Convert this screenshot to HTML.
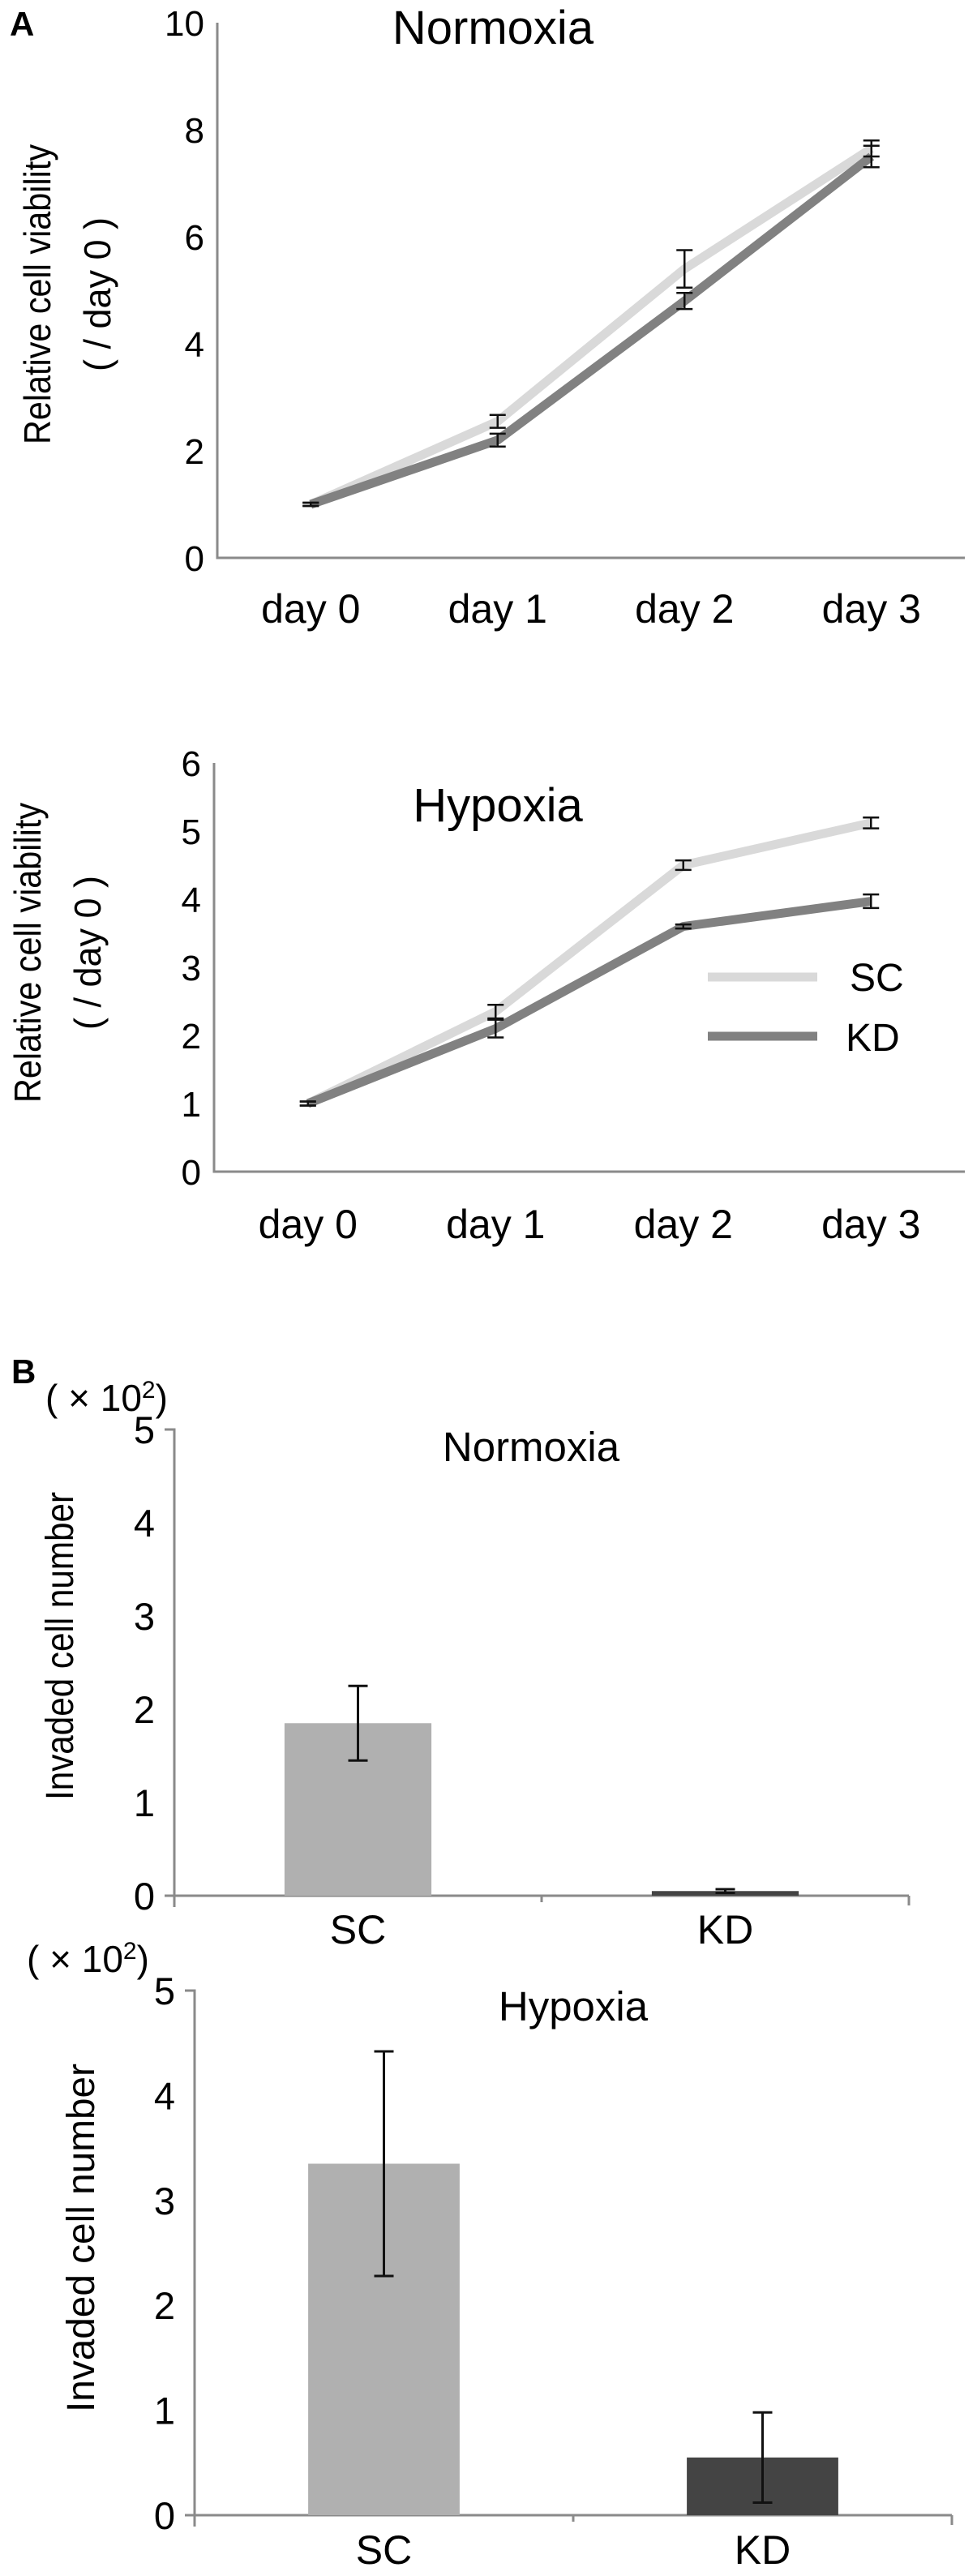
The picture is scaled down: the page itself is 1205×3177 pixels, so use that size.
<!DOCTYPE html>
<html><head><meta charset="utf-8">
<style>
html,body{margin:0;padding:0;background:#fff;}
svg{display:block;font-family:"Liberation Sans",sans-serif;}
</style></head>
<body>
<svg id="fig" width="1205" height="3177" viewBox="0 0 1205 3177" xmlns="http://www.w3.org/2000/svg">
<rect width="1205" height="3177" fill="#fff"/>
<text x="12" y="44" font-size="42" font-weight="bold">A</text>
<text x="14" y="1706" font-size="42" font-weight="bold">B</text>
<g id="g"></g>
</svg>
<script>
// ---- Panel A data ----
const dayCats = ["day 0","day 1","day 2","day 3"];
const normSC = [1, 2.55, 5.4, 7.65];
const normSCerr = [0.03, 0.12, 0.35, 0.15];
const normKD = [1, 2.2, 4.8, 7.5];
const normKDerr = [0.03, 0.12, 0.15, 0.2];
const normTicks = [0,2,4,6,8,10];
const hypSC = [1, 2.35, 4.5, 5.12];
const hypSCerr = [0.03, 0.1, 0.07, 0.08];
const hypKD = [1, 2.1, 3.6, 3.97];
const hypKDerr = [0.03, 0.13, 0.03, 0.1];
const hypTicks = [0,1,2,3,4,5,6];
// ---- Panel B data ----
const barCats = ["SC","KD"];
const invNorm = [1.85, 0.05];
const invNormErr = [0.4, 0.02];
const invHyp = [3.35, 0.55];
const invHypErr = [1.07, 0.43];
const barTicks = [0,1,2,3,4,5];

const NS="http://www.w3.org/2000/svg";
const G=document.getElementById('g');
function mk(tag,attrs,parent){const e=document.createElementNS(NS,tag);for(const k in attrs)e.setAttribute(k,attrs[k]);(parent||G).appendChild(e);return e;}
function txt(s,attrs,parent){const e=mk('text',attrs,parent);e.textContent=s;return e;}

function lineChart(cfg){
  const g=mk('g',{});
  
  
  const {x0,x1,yTop,yBot,max}=cfg;
  const ys=v=>yBot-(v/max)*(yBot-yTop);
  const band=(x1-x0)/dayCats.length;
  const xs=i=>x0+band*(i+0.5);
  const ax=mk('path',{d:`M${x0},${yTop} V${yBot} H${x1}`,stroke:'#8a8a8a','stroke-width':3,fill:'none'},g);
  
  
  cfg.ticks.forEach(t=>{
    const tl=txt(String(t),{x:x0-16,y:ys(t)+16,'font-size':44,'text-anchor':'end'},g);
    
    
  });
  dayCats.forEach((c,i)=>{
    const tl=txt(c,{x:xs(i),y:cfg.xLabY,'font-size':50,'text-anchor':'middle'},g);
    
    
  });
  const tt=txt(cfg.title,{x:cfg.titleX,y:cfg.titleY,'font-size':58,'text-anchor':'middle'},g);
  
  
  const yt=mk('g',{transform:`translate(${cfg.ytX},${cfg.ytY}) rotate(-90)`},g);
  
  
  txt('Relative cell viability',{x:0,y:0,'font-size':46,'text-anchor':'middle',textLength:370,lengthAdjust:'spacingAndGlyphs'},yt);
  txt('( / day 0 )',{x:0,y:74,'font-size':46,'text-anchor':'middle',textLength:190,lengthAdjust:'spacingAndGlyphs'},yt);
  [[cfg.sc,'#d9d9d9','sc'],[cfg.kd,'#818181','kd']].forEach(([vals,col,nm])=>{
    const pts=vals.map((v,i)=>`${xs(i)},${ys(v)}`).join(' ');
    const pl=mk('polyline',{points:pts,fill:'none',stroke:col,'stroke-width':11,'stroke-linejoin':'round'},g);
    
    
  });
  [[cfg.sc,cfg.scErr,'sc'],[cfg.kd,cfg.kdErr,'kd']].forEach(([vals,errs,nm])=>{
    vals.forEach((v,i)=>{
      const x=xs(i),a=ys(v+errs[i]),b=ys(v-errs[i]);
      const e=mk('path',{d:`M${x-10},${a}H${x+10}M${x},${a}V${b}M${x-10},${b}H${x+10}`,stroke:'#111','stroke-width':2.5,fill:'none'},g);
      
      
    });
  });
  return g;
}

lineChart({name:'normoxia-line-chart',x0:268,x1:1190,yTop:28,yBot:688,max:10,ticks:normTicks,
  sc:normSC,scErr:normSCerr,kd:normKD,kdErr:normKDerr,title:'Normoxia',titleX:608,titleY:54,
  xLabY:768,ytX:62,ytY:363});
lineChart({name:'hypoxia-line-chart',x0:264,x1:1190,yTop:941,yBot:1445,max:6,ticks:hypTicks,
  sc:hypSC,scErr:hypSCerr,kd:hypKD,kdErr:hypKDerr,title:'Hypoxia',titleX:614,titleY:1013,
  xLabY:1527,ytX:50,ytY:1175});

// legend
const lg=mk('g',{});


const l1=mk('line',{x1:873,y1:1205,x2:1008,y2:1205,stroke:'#d9d9d9','stroke-width':11},lg);


const t1=txt('SC',{x:1048,y:1222,'font-size':48},lg);


const l2=mk('line',{x1:873,y1:1278,x2:1008,y2:1278,stroke:'#818181','stroke-width':11},lg);


const t2=txt('KD',{x:1043,y:1296,'font-size':48},lg);



function barChart(cfg){
  const g=mk('g',{});
  
  
  const {x0,x1,yTop,yBot,max}=cfg;
  const ys=v=>yBot-(v/max)*(yBot-yTop);
  const band=(x1-x0)/barCats.length;
  const xc=i=>x0+band*(i+0.5);
  const bw=band*0.4;
  const ax=mk('path',{d:`M${x0-12},${yTop}H${x0}V${yBot+14}M${x0-12},${yBot}H${x1} M${x0+band},${yBot}v8 M${x1},${yBot}v12`,stroke:'#8a8a8a','stroke-width':3,fill:'none'},g);
  
  
  barTicks.forEach(t=>{
    const tl=txt(String(t),{x:x0-24,y:ys(t)+17,'font-size':47,'text-anchor':'end'},g);
    
    
  });
  const cols=['#b0b0b0','#444'];
  cfg.vals.forEach((v,i)=>{
    const r=mk('rect',{x:xc(i)-bw/2,y:ys(v),width:bw,height:yBot-ys(v),fill:cols[i]},g);
    
    
    const x=xc(i),a=ys(v+cfg.errs[i]),b=ys(v-cfg.errs[i]);
    const e=mk('path',{d:`M${x-12},${a}H${x+12}M${x},${a}V${b}M${x-12},${b}H${x+12}`,stroke:'#111','stroke-width':3,fill:'none'},g);
    
    
    const tl=txt(barCats[i],{x:xc(i),y:cfg.xLabY,'font-size':50,'text-anchor':'middle'},g);
    
    
  });
  const tt=txt(cfg.title,{x:cfg.titleX,y:cfg.titleY,'font-size':51,'text-anchor':'middle'},g);
  
  
  const un=txt('( × 10',{x:cfg.unitX,y:cfg.unitY,'font-size':46},g);
  const sup=mk('tspan',{dy:-16,'font-size':30},un);sup.textContent='2';
  const cl=mk('tspan',{dy:16},un);cl.textContent=')';
  
  
  const yt=txt('Invaded cell number',{transform:`translate(${cfg.ytX},${cfg.ytY}) rotate(-90)`,'font-size':48,'text-anchor':'middle',textLength:cfg.ytLen,lengthAdjust:'spacingAndGlyphs'},g);
  
  
}
barChart({name:'normoxia-bar-chart',x0:215,x1:1121,yTop:1763,yBot:2338,max:5,vals:invNorm,errs:invNormErr,
  title:'Normoxia',titleX:655,titleY:1802,xLabY:2397,unitX:56,unitY:1740,ytX:90,ytY:2030,ytLen:380});
barChart({name:'hypoxia-bar-chart',x0:240,x1:1174,yTop:2455,yBot:3102,max:5,vals:invHyp,errs:invHypErr,
  title:'Hypoxia',titleX:707,titleY:2492,xLabY:3162,unitX:33,unitY:2432,ytX:116,ytY:2760,ytLen:430});
</script>
</body></html>
